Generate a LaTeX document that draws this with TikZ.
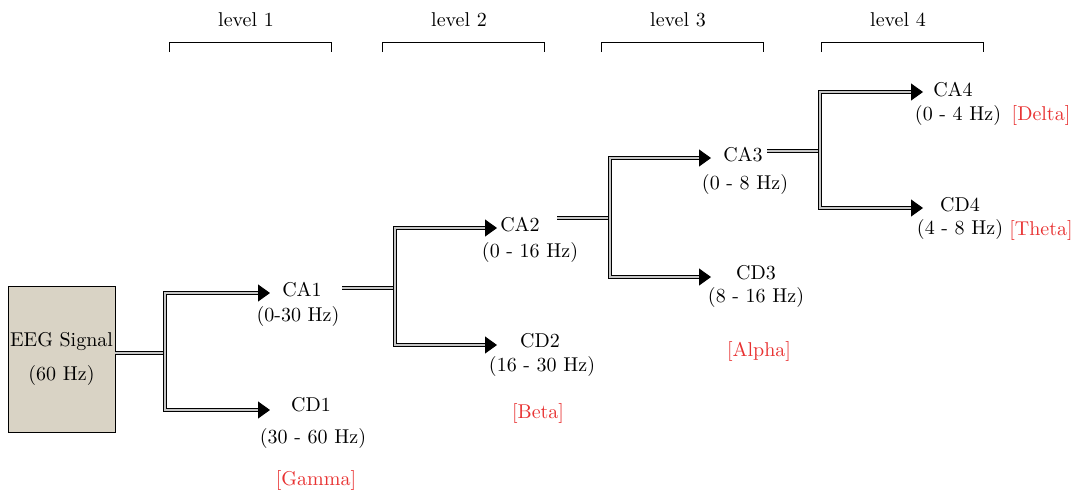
\documentclass[tikz,border=0pt]{standalone}
\usepackage{xcolor}
\usepackage{tikz}
\usetikzlibrary{positioning,arrows.meta}
\definecolor{boxfill}{RGB}{217,211,197}
\definecolor{bandred}{RGB}{232,50,50}

\begin{document}
\begin{tikzpicture}[x=0.5pt,y=-0.5pt,
  dline/.style={line width=0.5pt, double=gray!45, double distance=1.1pt},
  fork/.style={dline, {Triangle[length=6pt,width=8.5pt]}-{Triangle[length=6pt,width=8.5pt]}},
  band/.style={text=bandred}]
\useasboundingbox (0,0) rectangle (1074,493);

% levels
\foreach \x/\n in {169/1,382/2,601/3,821/4}{
  \node (lev\n) at (\x+77,20) {level \n};
  \draw[line width=0.5pt] (\x,52) -- (\x,42) -- (\x+162,42) -- (\x+162,52);
}

% input
\node[draw,fill=boxfill,minimum width=51.5pt,minimum height=73pt,inner sep=1pt,align=center]
  (eeg) at (61.5,359) {EEG Signal\\[5pt](60 Hz)};

% split points and free ends
\coordinate (s1) at (165,353);
\coordinate (s2) at (395,288);
\coordinate (s3) at (610,218);
\coordinate (s4) at (820,151);
\coordinate (o1) at (342,288);
\coordinate (o2) at (557,218);
\coordinate (o3) at (767,151);
\coordinate (t1) at (270,293); \coordinate (b1) at (270,410);
\coordinate (t2) at (497,228); \coordinate (b2) at (497,345);
\coordinate (t3) at (711,158); \coordinate (b3) at (711,277);
\coordinate (t4) at (923,92);  \coordinate (b4) at (923,208);

% labels
\node (ca1) at (302,290) {CA1};
\node (ca1f) at (298,316) {(0-30 Hz)};
\node (cd1) at (311,405) {CD1};
\node (cd1f) at (313,438) {(30 - 60 Hz)};
\node[band] (gamma) at (316,480) {[Gamma]};
\node (ca2) at (520,225) {CA2};
\node (ca2f) at (530,252) {(0 - 16 Hz)};
\node (cd2) at (540,341) {CD2};
\node (cd2f) at (542,366) {(16 - 30 Hz)};
\node[band] (beta) at (538,413) {[Beta]};
\node (ca3) at (743,155) {CA3};
\node (ca3f) at (745,184) {(0 - 8 Hz)};
\node (cd3) at (756,273) {CD3};
\node (cd3f) at (756,297) {(8 - 16 Hz)};
\node[band] (alpha) at (759,351) {[Alpha]};
\node (ca4) at (953,90) {CA4};
\node (ca4f) at (958,115) {(0 - 4 Hz)};
\node[band] (delta) at (1041,115) {[Delta]};
\node (cd4) at (960,205) {CD4};
\node (cd4f) at (960,229) {(4 - 8 Hz)};
\node[band] (theta) at (1041,230) {[Theta]};

% connectors
\draw[dline] (eeg.east |- s1) -- (s1);
\draw[dline] (o1) -- (s2);
\draw[dline] (o2) -- (s3);
\draw[dline] (o3) -- (s4);
\foreach \i in {1,...,4}
  \draw[fork] (t\i) -| (s\i) |- (b\i);
\end{tikzpicture}
\end{document}
